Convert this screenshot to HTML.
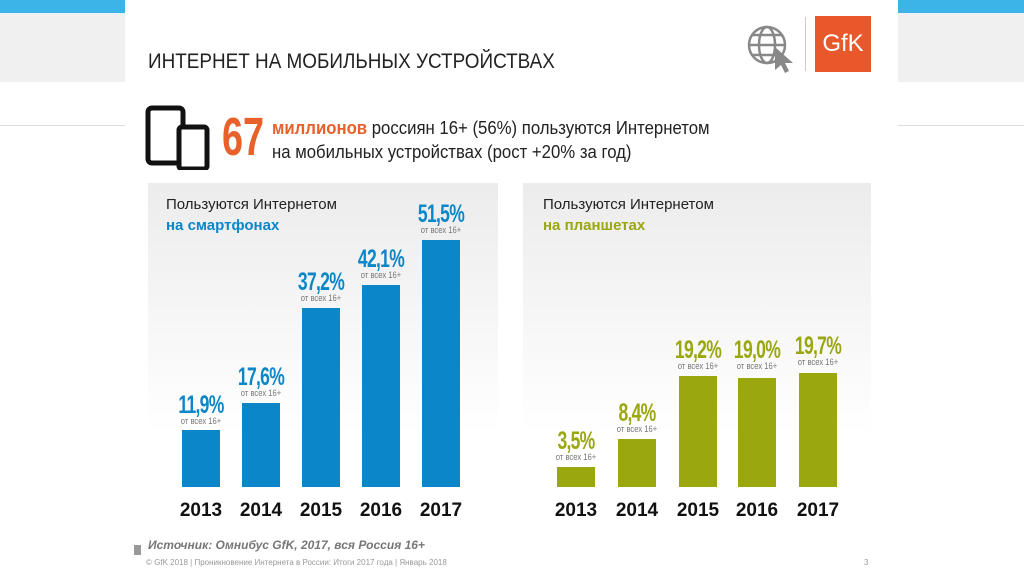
<!DOCTYPE html>
<html><head><meta charset="utf-8"><style>
*{margin:0;padding:0;box-sizing:border-box}
body{width:1024px;height:574px;background:#fff;position:relative;overflow:hidden;font-family:"Liberation Sans",sans-serif}
.a{position:absolute}
.bar{position:absolute;bottom:87px;width:38px}
.b{background:#0b86c9}.g{background:#9aa70f}
.v{position:absolute;font-weight:bold;font-size:25px;transform:scaleX(.7);transform-origin:center;width:90px;text-align:center;letter-spacing:-1px;line-height:25px}
.s{position:absolute;font-size:9px;color:#777;width:80px;text-align:center;transform:scaleX(.85)}
.y{position:absolute;top:500px;font-weight:bold;font-size:19px;width:60px;text-align:center;color:#111}
</style></head><body>
<div class="a" style="left:0;top:0;width:125px;height:13px;background:#3db4e8"></div>
<div class="a" style="left:898px;top:0;width:126px;height:13px;background:#3db4e8"></div>
<div class="a" style="left:0;top:13px;width:125px;height:69px;background:#f0f0f0"></div>
<div class="a" style="left:898px;top:13px;width:126px;height:69px;background:#f0f0f0"></div>
<div class="a" style="left:0;top:125px;width:125px;height:1px;background:#ddd"></div>
<div class="a" style="left:898px;top:125px;width:126px;height:1px;background:#ddd"></div>
<div class="a" style="left:148px;top:50px;font-size:21px;color:#222;transform:scaleX(.9);transform-origin:left">ИНТЕРНЕТ НА МОБИЛЬНЫХ УСТРОЙСТВАХ</div>
<svg class="a" style="left:745px;top:15px" width="60" height="60" viewBox="0 0 60 60"><g fill="none" stroke="#888" stroke-width="2.5"><circle cx="22" cy="30" r="18"/><ellipse cx="22" cy="30" rx="8" ry="18"/><line x1="4" y1="30" x2="40" y2="30"/><line x1="7" y1="20" x2="37" y2="20"/><line x1="7" y1="40" x2="37" y2="40"/></g><polygon points="30,32 48,48 40,48 44,56 40,58 36,50 30,55" fill="#888"/></svg>
<div class="a" style="left:805px;top:17px;width:1px;height:54px;background:#ccc"></div>
<div class="a" style="left:815px;top:16px;width:56px;height:56px;background:#e8582a;color:#fff;font-size:24px;text-align:center;line-height:56px">GfK</div>
<svg class="a" style="left:145px;top:105px" width="70" height="65"><rect x="3" y="3" width="35" height="55" rx="4" fill="none" stroke="#111" stroke-width="5"/><rect x="34" y="22" width="28" height="42" rx="3" fill="#fff" stroke="#111" stroke-width="5"/></svg>
<div class="a" style="left:222px;top:106px;font-size:54px;font-weight:bold;color:#e8602a;transform:scaleX(.7);transform-origin:left">67</div>
<div class="a" style="left:272px;top:116px;font-size:18px;color:#222;line-height:24px;transform:scaleX(.93);transform-origin:left;white-space:nowrap"><b style="color:#e8602a">миллионов</b> россиян 16+ (56%) пользуются Интернетом<br>на мобильных устройствах (рост +20% за год)</div>
<div class="a" style="left:148px;top:183px;width:350px;height:314px;background:linear-gradient(#ececec,#fff 80%)"></div>
<div class="a" style="left:523px;top:183px;width:348px;height:314px;background:linear-gradient(#ececec,#fff 80%)"></div>
<div class="a" style="left:166px;top:194px;font-size:15px;color:#222;line-height:21px">Пользуются Интернетом<br><b style="color:#0b86c9">на смартфонах</b></div>
<div class="a" style="left:543px;top:194px;font-size:15px;color:#222;line-height:21px">Пользуются Интернетом<br><b style="color:#9aa70f">на планшетах</b></div>

<div class="bar b" style="left:182px;height:57px"></div>
<div class="bar b" style="left:242px;height:84px"></div>
<div class="bar b" style="left:302px;height:179px"></div>
<div class="bar b" style="left:362px;height:202px"></div>
<div class="bar b" style="left:422px;height:247px"></div>
<div class="v" style="left:156px;top:393px;color:#0b86c9">11,9%</div><div class="s" style="left:161px;top:416px">от всех 16+</div>
<div class="v" style="left:216px;top:365px;color:#0b86c9">17,6%</div><div class="s" style="left:221px;top:388px">от всех 16+</div>
<div class="v" style="left:276px;top:270px;color:#0b86c9">37,2%</div><div class="s" style="left:281px;top:293px">от всех 16+</div>
<div class="v" style="left:336px;top:247px;color:#0b86c9">42,1%</div><div class="s" style="left:341px;top:270px">от всех 16+</div>
<div class="v" style="left:396px;top:202px;color:#0b86c9">51,5%</div><div class="s" style="left:401px;top:225px">от всех 16+</div>

<div class="bar g" style="left:557px;height:20px"></div>
<div class="bar g" style="left:618px;height:48px"></div>
<div class="bar g" style="left:679px;height:111px"></div>
<div class="bar g" style="left:738px;height:109px"></div>
<div class="bar g" style="left:799px;height:114px"></div>
<div class="v" style="left:531px;top:429px;color:#9aa70f">3,5%</div><div class="s" style="left:536px;top:452px">от всех 16+</div>
<div class="v" style="left:592px;top:401px;color:#9aa70f">8,4%</div><div class="s" style="left:597px;top:424px">от всех 16+</div>
<div class="v" style="left:653px;top:338px;color:#9aa70f">19,2%</div><div class="s" style="left:658px;top:361px">от всех 16+</div>
<div class="v" style="left:712px;top:338px;color:#9aa70f">19,0%</div><div class="s" style="left:717px;top:361px">от всех 16+</div>
<div class="v" style="left:773px;top:334px;color:#9aa70f">19,7%</div><div class="s" style="left:778px;top:357px">от всех 16+</div>

<div class="y" style="left:171px">2013</div><div class="y" style="left:231px">2014</div><div class="y" style="left:291px">2015</div><div class="y" style="left:351px">2016</div><div class="y" style="left:411px">2017</div>
<div class="y" style="left:546px">2013</div><div class="y" style="left:607px">2014</div><div class="y" style="left:668px">2015</div><div class="y" style="left:727px">2016</div><div class="y" style="left:788px">2017</div>

<div class="a" style="left:134px;top:545px;width:7px;height:10px;background:#999"></div>
<div class="a" style="left:148px;top:538px;font-size:12px;font-style:italic;font-weight:bold;color:#777">Источник: Омнибус GfK, 2017, вся Россия 16+</div>
<div class="a" style="left:146px;top:558px;font-size:8px;color:#999">© GfK 2018 | Проникновение Интернета в России: Итоги 2017 года | Январь 2018</div>
<div class="a" style="left:864px;top:558px;font-size:8px;color:#999">3</div>
</body></html>
